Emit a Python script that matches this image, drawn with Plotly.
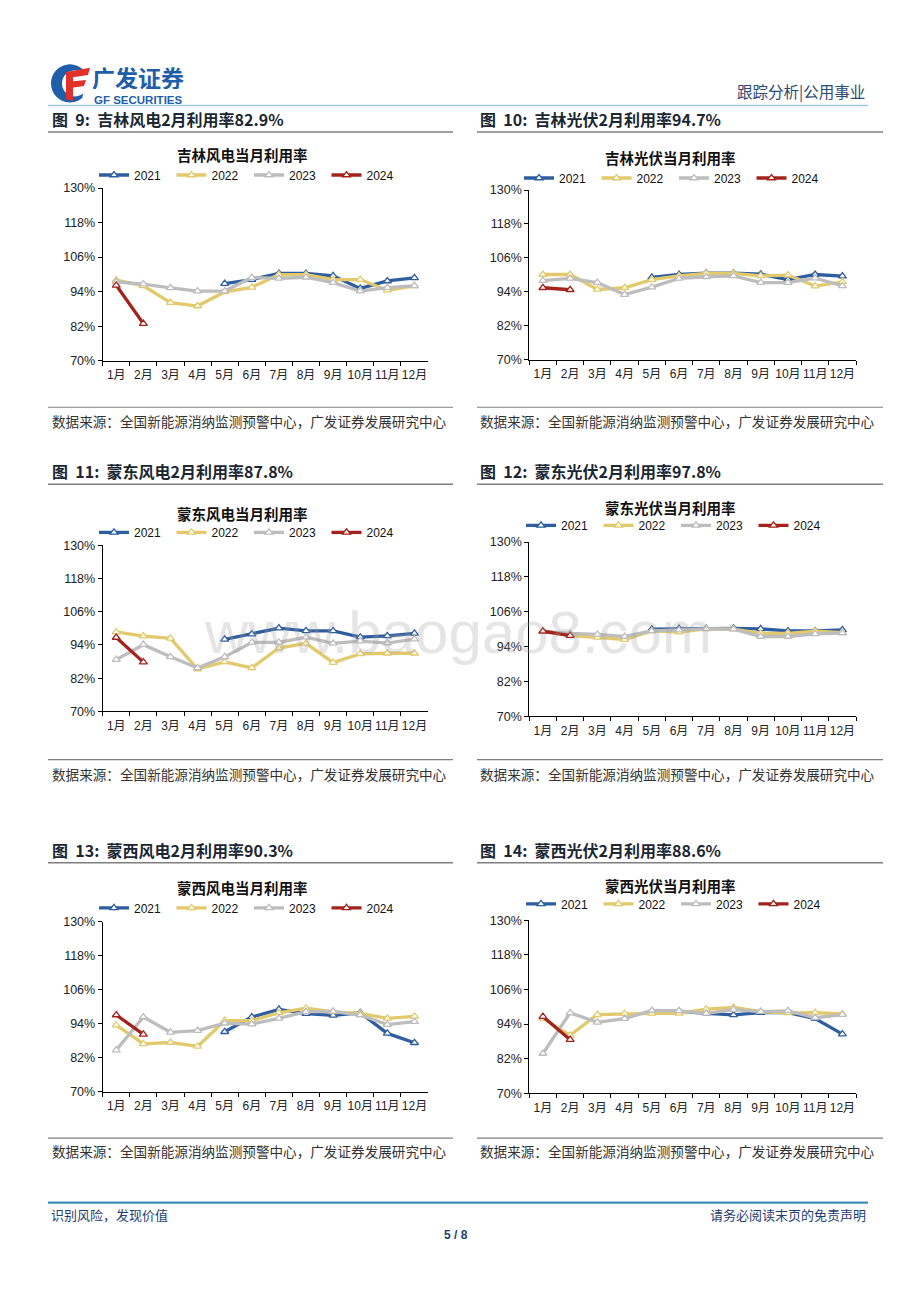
import numpy as np
import plotly.graph_objects as go

W, H = 920, 1302

months = ["1月", "2月", "3月", "4月", "5月", "6月", "7月", "8月", "9月", "10月", "11月", "12月"]
years = ["2021", "2022", "2023", "2024"]
y_ticks = [70, 82, 94, 106, 118, 130]
y_ticktext = ["70%", "82%", "94%", "106%", "118%", "130%"]

# 吉林风电
jl_wind_2021 = [None, None, None, None, 96.8, 98.2, 100.3, 100.3, 99.5, 95.1, 97.7, 98.8]
jl_wind_2022 = [98.0, 96.0, 90.2, 89.0, 93.9, 95.5, 99.9, 99.9, 98.2, 98.2, 94.5, 96.0]
jl_wind_2023 = [97.4, 96.6, 95.3, 94.2, 94.2, 98.9, 98.6, 99.0, 97.1, 94.2, 95.4, 96.0]
jl_wind_2024 = [96.2, 82.9]
# 吉林光伏
jl_pv_2021 = [None, None, None, None, 99.1, 100.1, 100.6, 100.6, 100.2, 98.3, 100.1, 99.5]
jl_pv_2022 = [100.1, 100.1, 94.8, 95.4, 98.3, 99.6, 100.5, 100.5, 99.6, 99.9, 96.0, 97.5]
jl_pv_2023 = [97.9, 98.7, 97.2, 93.0, 95.6, 98.7, 99.3, 99.6, 97.2, 97.2, 98.8, 96.1]
jl_pv_2024 = [95.4, 94.7]
# 蒙东风电
md_wind_2021 = [None, None, None, None, 96.0, 97.9, 100.1, 99.1, 99.1, 96.8, 97.3, 98.2]
md_wind_2022 = [98.7, 97.2, 96.4, 85.3, 87.9, 85.7, 92.9, 94.6, 87.6, 90.8, 91.0, 91.0]
md_wind_2023 = [88.7, 94.1, 89.7, 85.7, 89.7, 94.9, 94.9, 96.8, 94.6, 95.4, 94.7, 96.1]
md_wind_2024 = [96.7, 87.8]
# 蒙东光伏
md_pv_2021 = [None, None, None, None, 100.0, 100.2, 100.2, 100.3, 100.1, 99.4, 99.4, 99.8]
md_pv_2022 = [99.4, 97.8, 97.2, 96.4, 99.4, 99.0, 100.1, 100.0, 98.6, 98.6, 99.3, 98.8]
md_pv_2023 = [99.3, 98.6, 98.2, 97.5, 99.4, 99.7, 100.1, 100.0, 97.5, 97.5, 98.4, 98.7]
md_pv_2024 = [99.3, 97.8]
# 蒙西风电
mx_wind_2021 = [None, None, None, None, 91.2, 96.4, 99.1, 97.6, 97.0, 97.9, 90.6, 87.3]
mx_wind_2022 = [93.5, 86.9, 87.4, 86.0, 95.1, 95.1, 97.9, 99.5, 98.2, 97.7, 95.9, 96.6]
mx_wind_2023 = [84.7, 96.4, 91.0, 91.6, 94.2, 93.9, 95.9, 98.3, 98.4, 97.1, 93.7, 94.8]
mx_wind_2024 = [97.1, 90.3]
# 蒙西光伏
mx_pv_2021 = [None, None, None, None, 98.4, 98.4, 97.7, 97.2, 98.0, 98.0, 95.9, 90.5]
mx_pv_2022 = [96.0, 90.1, 97.3, 97.6, 97.7, 97.7, 99.2, 99.8, 98.3, 97.9, 98.0, 97.5]
mx_pv_2023 = [83.8, 97.9, 94.6, 95.9, 98.7, 98.6, 97.7, 99.0, 98.3, 98.6, 96.2, 97.3]
mx_pv_2024 = [96.6, 88.6]

chart_titles = ["吉林风电当月利用率", "吉林光伏当月利用率", "蒙东风电当月利用率",
                "蒙东光伏当月利用率", "蒙西风电当月利用率", "蒙西光伏当月利用率"]
fig_titles = ["图  9:  吉林风电2月利用率82.9%", "图  10:  吉林光伏2月利用率94.7%",
              "图  11:  蒙东风电2月利用率87.8%", "图  12:  蒙东光伏2月利用率97.8%",
              "图  13:  蒙西风电2月利用率90.3%", "图  14:  蒙西光伏2月利用率88.6%"]
source_text = "数据来源：全国新能源消纳监测预警中心，广发证券发展研究中心"

series = [
    [jl_wind_2021, jl_wind_2022, jl_wind_2023, jl_wind_2024],
    [jl_pv_2021, jl_pv_2022, jl_pv_2023, jl_pv_2024],
    [md_wind_2021, md_wind_2022, md_wind_2023, md_wind_2024],
    [md_pv_2021, md_pv_2022, md_pv_2023, md_pv_2024],
    [mx_wind_2021, mx_wind_2022, mx_wind_2023, mx_wind_2024],
    [mx_pv_2021, mx_pv_2022, mx_pv_2023, mx_pv_2024],
]

colors = ["#2F5E9E", "#E2CA6C", "#BDBDBD", "#A3231C"]

# layout geometry in pixels: (x0, x1, y_top, y_bottom, title_cx, title_y, legend_x, legend_y)
geo = [
    (102.7, 428, 188, 360.5, 243, 155, 94, 175),
    (529.3, 856, 190, 359.3, 670, 158, 519, 178),
    (102.7, 428, 545, 710.7, 243, 513, 94, 532),
    (529.3, 856, 541.7, 715.7, 670, 507, 521, 525),
    (102.7, 428, 921, 1090.7, 243, 887, 94, 907),
    (529.3, 856, 919.3, 1092.3, 670, 885, 521, 903),
]

def fx(x):
    return x / W

def fy(y):
    # small vertical calibration for the capture
    yc = (y - 7.2) / 0.9881
    return 1 - yc / H

CJK = "Liberation Sans, Noto Sans CJK SC, sans-serif"
CJKB = "Noto Sans CJK SC, sans-serif"

fig = go.Figure()
layout = dict(width=W, height=H, margin=dict(l=0, r=0, t=0, b=0),
              paper_bgcolor="white", plot_bgcolor="rgba(0,0,0,0)",
              showlegend=True)
annotations = []
shapes = []

for i, (g, ser) in enumerate(zip(geo, series)):
    x0, x1, yt, yb, tcx, ty, lx, ly = g
    n = i + 1
    xa = "x" if n == 1 else f"x{n}"
    ya = "y" if n == 1 else f"y{n}"
    lg = "legend" if n == 1 else f"legend{n}"
    for yr, vals, c in zip(years, ser, colors):
        fig.add_trace(go.Scatter(
            x=months[:len(vals)], y=vals, name=yr, mode="lines+markers",
            line=dict(color=c, width=3.3),
            marker=dict(symbol="triangle-up", size=7, color="white",
                        line=dict(color=c, width=1.3)),
            xaxis=xa, yaxis=ya, legend=lg, connectgaps=False))
    layout["xaxis" if n == 1 else f"xaxis{n}"] = dict(
        domain=[fx(x0), fx(x1)], anchor=ya, type="category",
        categoryorder="array", categoryarray=months, range=[-0.5, 11.5],
        tickson="boundaries", ticks="outside", ticklen=4, tickcolor="black",
        showline=True, linecolor="black", linewidth=1, showgrid=False,
        tickangle=0,
        tickfont=dict(family=CJK, size=12, color="#222"), fixedrange=True,
        ticklabelstandoff=3)
    layout["yaxis" if n == 1 else f"yaxis{n}"] = dict(
        domain=[fy(yb), fy(yt)], anchor=xa, range=[70, 130],
        tickvals=y_ticks, ticktext=y_ticktext, ticks="outside", ticklen=4,
        tickcolor="black", showline=True, linecolor="black", linewidth=1,
        showgrid=False, zeroline=False,
        tickfont=dict(family="Liberation Sans, Arial, sans-serif", size=12.5, color="#222"),
        fixedrange=True)
    layout[lg] = dict(orientation="h", x=fx(lx), y=fy(ly), xanchor="left",
                      yanchor="middle", bgcolor="rgba(0,0,0,0)",
                      font=dict(family="Liberation Sans, Arial, sans-serif", size=12, color="#111"),
                      entrywidth=32.5, entrywidthmode="pixels", itemwidth=30,
                      tracegroupgap=0)
    annotations.append(dict(text=f"<b>{chart_titles[i]}</b>", x=fx(tcx), y=fy(ty),
                            xref="paper", yref="paper", showarrow=False,
                            xanchor="center", yanchor="middle",
                            font=dict(family=CJKB, size=14.5, color="#111")))

# figure titles, rules, sources
rows = [(119, 132, 407, 421), (471, 484, 759, 773), (849, 862, 1137, 1150)]
cols = [(48, 453, 50), (477, 883, 478)]
k = 0
for (tty, tly, sly, sty) in rows:
    for (cx0, cx1, tx) in cols:
        annotations.append(dict(text=f"<b>{fig_titles[k]}</b>", x=fx(tx), y=fy(tty),
                                xref="paper", yref="paper", showarrow=False,
                                xanchor="left", yanchor="middle",
                                font=dict(family=CJKB, size=16, color="#1B2733")))
        annotations.append(dict(text=source_text, x=fx(tx), y=fy(sty),
                                xref="paper", yref="paper", showarrow=False,
                                xanchor="left", yanchor="middle",
                                font=dict(family=CJKB, size=13.6, color="#333")))
        shapes.append(dict(type="line", xref="paper", yref="paper",
                           x0=fx(cx0), x1=fx(cx1), y0=fy(tly), y1=fy(tly),
                           line=dict(color="#7F7F7F", width=1.5)))
        shapes.append(dict(type="line", xref="paper", yref="paper",
                           x0=fx(cx0), x1=fx(cx1), y0=fy(sly), y1=fy(sly),
                           line=dict(color="#7F7F7F", width=1.2)))
        k += 1

# header
shapes.append(dict(type="line", xref="paper", yref="paper", x0=fx(48), x1=fx(868),
                   y0=fy(105.5), y1=fy(105.5), line=dict(color="#9CCBE0", width=1.5)))
annotations.append(dict(text="跟踪分析|公用事业", x=fx(867), y=fy(92), xref="paper", yref="paper",
                        showarrow=False, xanchor="right", yanchor="middle",
                        font=dict(family=CJKB, size=15.5, color="#2C4A72")))
annotations.append(dict(text="<b>广发证券</b>", x=fx(90), y=fy(77.5), xref="paper", yref="paper",
                        showarrow=False, xanchor="left", yanchor="middle", height=24,
                        font=dict(family=CJKB, size=23, color="#1F5EA8")))
annotations.append(dict(text="<b>GF SECURITIES</b>", x=fx(92), y=fy(100.5), xref="paper", yref="paper",
                        showarrow=False, xanchor="left", yanchor="middle",
                        font=dict(family="Liberation Sans, Arial", size=11.5, color="#1F5EA8")))

# logo (decorative geometry)
def pt(x, y):
    return f"{fx(x):.5f},{fy(y):.5f}"

ang_o = np.linspace(np.radians(50), np.radians(310), 40)
ang_i = ang_o[::-1]
cxo, cyo, ro = 70, 83.5, 19
cxi, cyi, ri = 75, 83.5, 13
pts_o = [(cxo + ro * np.cos(a), cyo - ro * np.sin(a)) for a in ang_o]
pts_i = [(cxi + ri * np.cos(a), cyi - ri * np.sin(a)) for a in ang_i]
path = "M" + " L".join(pt(x, y) for x, y in pts_o + pts_i) + " Z"
shapes.append(dict(type="path", xref="paper", yref="paper", path=path,
                   fillcolor="#1F5EA8", line=dict(width=0)))
redF = [
    [(66, 72), (90, 68), (88, 75), (68, 78)],
    [(66, 82), (86, 80), (84, 86), (70, 88)],
    [(66, 72), (73, 72), (73, 101), (66, 99)],
]
for poly in redF:
    p = "M" + " L".join(pt(x, y) for x, y in poly) + " Z"
    shapes.append(dict(type="path", xref="paper", yref="paper", path=p,
                       fillcolor="#E0322B", line=dict(width=0)))

# footer
shapes.append(dict(type="line", xref="paper", yref="paper", x0=fx(48), x1=fx(868),
                   y0=fy(1201.5), y1=fy(1201.5), line=dict(color="#3A8DB8", width=2.2)))
annotations.append(dict(text="识别风险，发现价值", x=fx(49), y=fy(1213), xref="paper", yref="paper",
                        showarrow=False, xanchor="left", yanchor="middle",
                        font=dict(family=CJKB, size=13, color="#1F3D6E")))
annotations.append(dict(text="请务必阅读末页的免责声明", x=fx(868), y=fy(1213), xref="paper", yref="paper",
                        showarrow=False, xanchor="right", yanchor="middle",
                        font=dict(family=CJKB, size=13, color="#1F3D6E")))
annotations.append(dict(text="<b>5 / 8</b>", x=fx(456), y=fy(1234), xref="paper", yref="paper",
                        showarrow=False, xanchor="center", yanchor="middle",
                        font=dict(family="Liberation Sans, Arial", size=12, color="#1F3D6E")))

# watermark
annotations.append(dict(text="www.baogao8.com", x=fx(458), y=fy(632), xref="paper", yref="paper",
                        showarrow=False, xanchor="center", yanchor="middle",
                        font=dict(family="Liberation Sans, Arial", size=60, color="rgba(160,160,160,0.28)")))

layout["annotations"] = annotations
layout["shapes"] = shapes
fig.update_layout(**layout)

post = ("var gd=document.getElementById('{plot_id}');"
        "document.body.style.margin='0px';"
        "gd.style.position='absolute';gd.style.left='0px';gd.style.top='0px';")
fig.write_html("out.html", post_script=post, config={"displayModeBar": False})
